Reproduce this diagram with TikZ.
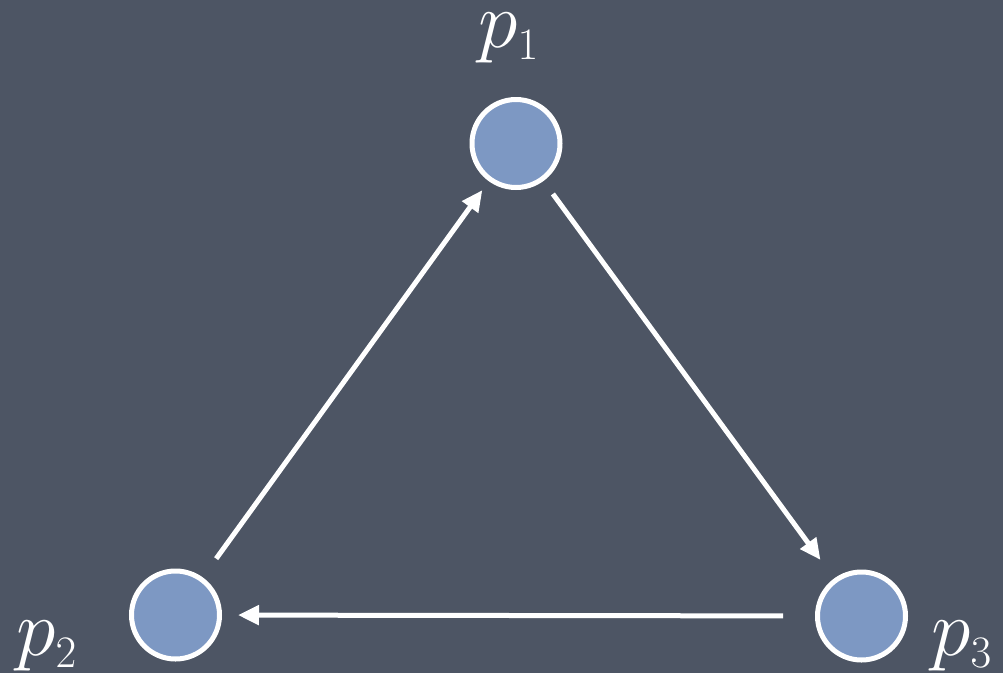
\RequirePackage{fix-cm}
\documentclass[tikz,border=0pt]{standalone}
\usetikzlibrary{arrows.meta}
\DeclareMathSizes{80}{80}{45}{32}
\definecolor{bgslate}{RGB}{77,85,100}
\definecolor{nodeblue}{RGB}{125,152,195}
\tikzset{
  proc/.style={circle, draw=white, line width=5pt, fill=nodeblue, minimum size=88pt, inner sep=0pt},
  lbl/.style={text=white, inner sep=0pt, anchor=base west, font=\fontsize{80}{90}\selectfont},
  msg/.style={draw=white, line width=5pt, -{Triangle[length=21pt,width=19pt]}}
}
\begin{document}
\begin{tikzpicture}[x=1pt,y=-1pt]
\fill[bgslate] (0,0) rectangle (1003,673);
\useasboundingbox (0,0) rectangle (1003,673);
\node[proc] (p1) at (516,143.5) {};
\node[proc] (p2) at (175.5,615) {};
\node[proc] (p3) at (861.5,616) {};
\node[lbl] (l1) at (478,47) {$p_1$};
\node[lbl] (l2) at (16,655) {$p_2$};
\node[lbl] (l3) at (931,655) {$p_3$};
\draw[msg, shorten <=23pt, shorten >=11pt] (p2) -- (p1);
\draw[msg, shorten <=16pt, shorten >=23pt] (p1) -- (p3);
\draw[msg, shorten <=32pt, shorten >=16pt] (p3) -- (p2);
\end{tikzpicture}
\end{document}
